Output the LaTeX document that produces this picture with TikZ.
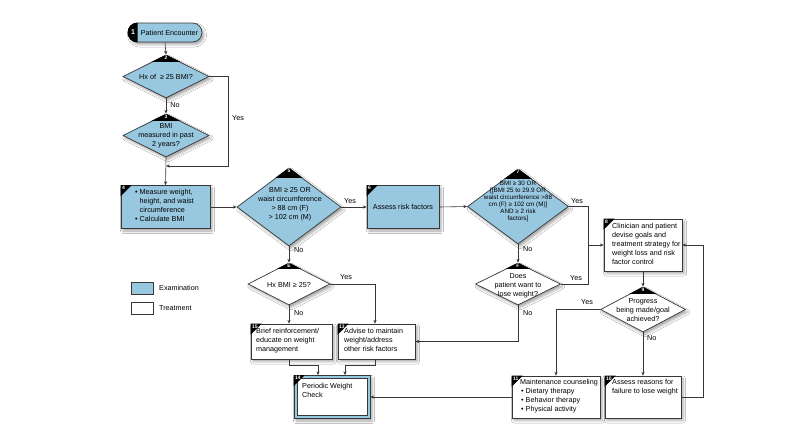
\documentclass[tikz,border=0pt]{standalone}
\usepackage{fontspec}
\setmainfont{Liberation Sans}
\usetikzlibrary{shapes.geometric,arrows.meta,shadows.blur}
\definecolor{exblue}{RGB}{152,199,224}
\definecolor{linec}{RGB}{55,55,55}
\newcommand\fs{\fontsize{7.2}{9}\selectfont}
\newcommand\fsd{\fontsize{6.3}{6.9}\selectfont}
\tikzset{
  shad/.style={blur shadow={shadow xshift=2pt, shadow yshift=-2.5pt, shadow blur radius=2.5pt, shadow opacity=35}},
  base/.style={draw=linec, line width=0.7pt, inner sep=0pt, shad},
  exam/.style={base, rectangle, fill=exblue},
  treat/.style={base, rectangle, fill=white},
  dexam/.style={base, diamond, fill=exblue},
  dtreat/.style={base, diamond, fill=white},
  txt/.style={font=\fs, inner sep=0pt, align=left, anchor=north west},
  ctxt/.style={font=\fs, inner sep=0pt, align=center},
  lbl/.style={font=\fs, inner sep=0pt},
  num/.style={font=\fontsize{5}{5}\selectfont\bfseries, text=white, inner sep=0pt},
  ln/.style={draw=linec, line width=0.6pt},
  arr/.style={ln, -{Stealth[length=3.8pt,width=3.2pt]}},
}
\newcommand\bmark[2]{%
  \fill[black] (#1.north west) -- ++(11,0) -- ++(-11,11) -- cycle;
  \node[num, anchor=north west] at ([xshift=1.2pt,yshift=-1pt]#1.north west) {#2};}
\newcommand\dmark[3]{%
  \begin{scope}
    \clip (#1.north) -- (#1.east) -- (#1.south) -- (#1.west) -- cycle;
    \fill[black] ([xshift=-30pt]#1.north) rectangle ([xshift=30pt,yshift=-#3pt]#1.north);
  \end{scope}
  \node[num, anchor=north] at ([yshift=-1pt]#1.north) {#2};}
\begin{document}
\begin{tikzpicture}[x=1pt,y=-1pt]
\useasboundingbox[fill=white] (0,0) rectangle (800,440);

% ---------- nodes ----------
\node[exam, rounded corners=9.5pt, minimum width=74pt, minimum height=19pt] (n1) at (165,32.5) {};
\node[dexam, minimum width=86pt, minimum height=43pt] (d2) at (166,76.5) {};
\node[dexam, minimum width=86pt, minimum height=43pt] (d3) at (166,135.5) {};
\node[exam, minimum width=89pt, minimum height=43pt] (b4) at (165.5,207) {};
\node[dexam, minimum width=104pt, minimum height=78pt] (d5) at (289,207) {};
\node[exam, minimum width=72pt, minimum height=43pt] (b6) at (403,207) {};
\node[dexam, minimum width=101pt, minimum height=75pt] (d7) at (518,206.5) {};
\node[treat, minimum width=78pt, minimum height=52pt] (b8) at (643,245) {};
\node[dtreat, minimum width=85pt, minimum height=45pt] (d9) at (643,309.5) {};
\node[treat, minimum width=76pt, minimum height=42pt] (b10) at (643,397) {};
\node[treat, minimum width=88pt, minimum height=42pt] (b11) at (556,397) {};
\node[dtreat, minimum width=85pt, minimum height=42pt] (dF) at (518,284) {};
\node[dtreat, minimum width=82pt, minimum height=42pt] (dE) at (289,284) {};
\node[treat, minimum width=81pt, minimum height=35pt] (b15) at (291.5,341.5) {};
\node[treat, minimum width=77pt, minimum height=35pt] (b13) at (376.5,341.5) {};
\node[exam, minimum width=76pt, minimum height=43pt] (b14) at (332,397) {};
\draw[draw=linec, line width=0.6pt, fill=white] ([shift={(3.5,3.5)}]b14.north west) rectangle ([shift={(-3.5,-3.5)}]b14.south east);

% legend
\node[draw=linec, line width=0.7pt, fill=exblue, minimum width=22pt, minimum height=12pt, inner sep=0pt] (lg1) at (142,288) {};
\node[draw=linec, line width=0.7pt, fill=white, minimum width=22pt, minimum height=12pt, inner sep=0pt] (lg2) at (142,308) {};
\node[lbl, anchor=west] (lt1) at (159,288) {Examination};
\node[lbl, anchor=west] (lt2) at (159,308) {Treatment};

% ---------- markers ----------
\begin{scope}
  \clip (n1.north west) rectangle ([xshift=10pt]n1.south west);
  \fill[black, rounded corners=9.5pt] (n1.north west) rectangle (n1.south east);
\end{scope}
\node[font=\fontsize{7}{7}\selectfont\bfseries, text=white, inner sep=0pt] at ([xshift=5.5pt]n1.west) {1};
\dmark{d2}{2}{7}
\dmark{d3}{3}{7}
\dmark{d5}{5}{10}
\dmark{d7}{7}{10}
\dmark{d9}{9}{7}
\dmark{dF}{F}{6}
\dmark{dE}{E}{6}
\bmark{b4}{4}
\bmark{b6}{6}
\bmark{b8}{8}
\bmark{b10}{10}
\bmark{b11}{11}
\bmark{b13}{13}
\bmark{b15}{15}
\bmark{b14}{14}

% ---------- texts ----------
\node[ctxt] at (169.5,32.5) {Patient Encounter};
\node[ctxt] at (166,77) {Hx of \ ≥ 25 BMI?};
\node[ctxt] at (166,136) {BMI\\measured in past\\2 years?};
\node[txt] at (135,189.5) {• Measure weight,\\\phantom{• }height, and waist\\\phantom{• }circumference\\• Calculate BMI};
\node[ctxt] at (290,204.5) {BMI ≥ 25 OR\\waist circumference\\> 88 cm (F)\\> 102 cm (M)};
\node[ctxt] at (403,207) {Assess risk factors};
\node[ctxt, font=\fsd] at (518,201.5) {BMI ≥ 30 OR\\{[}[BMI 25 to 29.9 OR\\waist circumference >88\\cm (F) ≥ 102 cm (M)]\\AND ≥ 2 risk\\factors]};
\node[txt] at (612,223) {Clinician and patient\\devise goals and\\treatment strategy for\\weight loss and risk\\factor control};
\node[ctxt] at (643,310) {Progress\\being made/goal\\achieved?};
\node[txt] at (612,379) {Assess reasons for\\failure to lose weight};
\node[txt] at (520,379) {Maintenance counseling\\\hspace{1pt}• Dietary therapy\\\hspace{1pt}• Behavior therapy\\\hspace{1pt}• Physical activity};
\node[ctxt] at (518,286) {Does\\patient want to\\lose weight?};
\node[ctxt] at (289,285) {Hx BMI ≥ 25?};
\node[txt] at (256,328) {Brief reinforcement/\\educate on weight\\management};
\node[txt] at (344,328) {Advise to maintain\\weight/address\\other risk factors};
\node[txt] at (302,383) {Periodic Weight\\Check};

% ---------- connectors ----------
\coordinate (j1) at (166,166);
\coordinate (c2) at (228,166);
\coordinate (j2) at (588,245);
\coordinate (rx) at (703,0);
\coordinate (c5) at (375,0);
\coordinate (k1) at (318,365);
\coordinate (k2) at (345,365);

\draw[arr] (n1.south) -- (d2.north);
\draw[arr] (d2.south) -- (d3.north) node[lbl, pos=0.45, anchor=west, xshift=4pt] {No};
\draw[arr] (d2.east) -| (c2) -- (j1);
\node[lbl, anchor=west] at (232,118) {Yes};
\draw[arr] (d3.south) -- (b4.north);
\draw[arr] (b4.east) -- (d5.west);
\draw[arr] (d5.east) -- (b6.west);
\node[lbl] at (350,201) {Yes};
\draw[arr] (b6.east) -- (d7.west);
\draw[ln] (d7.east) -| (j2);
\node[lbl] at (577,201) {Yes};
\draw[ln] (dF.east) -| (j2);
\node[lbl] at (576,278) {Yes};
\draw[arr] (j2) -- (b8.west);
\draw[arr] (d7.south) -- (dF.north);
\node[lbl, anchor=west] at (523,249) {No};
\draw[arr] (dF.south) |- (b13.east);
\node[lbl, anchor=west] at (523,313) {No};
\draw[arr] (b8.south) -- (d9.north);
\draw[arr] (d9.south) -- (b10.north);
\node[lbl, anchor=west] at (647,338) {No};
\draw[arr] (d9.west) -| (b11.north);
\node[lbl] at (587,302) {Yes};
\draw[arr] (b10.east) -| (rx |- b8.east) -- (b8.east);
\draw[arr] (b11.west) -- (b14.east);
\draw[arr] (d5.south) -- (dE.north);
\node[lbl, anchor=west] at (294,250) {No};
\draw[arr] (dE.south) -- (dE.south |- b15.north);
\node[lbl, anchor=west] at (294,313) {No};
\draw[arr] (dE.east) -| (c5 |- b13.north);
\node[lbl] at (346,277) {Yes};
\draw[arr] (dE.south |- b15.south) |- (k1) -- (k1 |- b14.north);
\draw[arr] (c5 |- b13.south) |- (k2) -- (k2 |- b14.north);
\end{tikzpicture}
\end{document}
